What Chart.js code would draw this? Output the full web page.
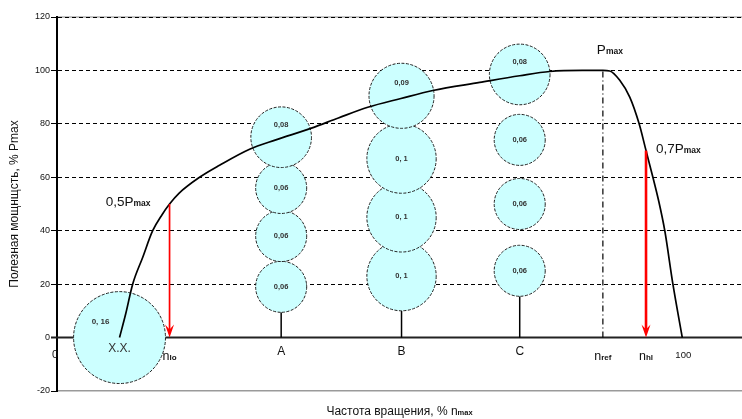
<!DOCTYPE html>
<html>
<head>
<meta charset="utf-8">
<script src="https://cdn.jsdelivr.net/npm/chart.js@4"></script>
<style>
  html, body { margin: 0; padding: 0; background: #fff; }
  #c { display: block; }
</style>
</head>
<body>
<canvas id="c" width="742" height="419"></canvas>
<script>
// Useful power (% of Pmax) against rotation speed (% of n_max)
const curveX = [10, 11, 12.1, 13.7, 15.3, 16.8, 18, 19.5, 22.8, 26, 30.8, 35, 40.7, 45, 49.7, 55, 60.1, 67.6, 74, 78.8, 84, 87.3, 88.4, 90, 91.6, 93.1, 94.2, 95.3, 96.2, 97.2, 98.5, 100];
const curveY = [0, 9, 20, 30, 40, 46, 50, 54, 60, 64.5, 70.5, 74, 78.4, 82.2, 86.2, 89.5, 92.5, 95.5, 98, 99.6, 100, 100, 99.8, 96.3, 90, 80, 70, 60, 51.4, 40, 20, 0];

// Operating-mode weights (share of time), one column per mode
const modeNames = ['X.X.', 'A', 'B', 'C'];
const modeX = [10, 35.85, 55.1, 74];
const idleY = [0];
const idleShare = [0.16];
const modeAY = [19, 38, 56, 75];
const modeAShare = [0.06, 0.06, 0.06, 0.08];
const modeBY = [23, 45, 67, 90.5];
const modeBShare = [0.1, 0.1, 0.1, 0.09];
const modeCY = [25, 50, 74, 98.5];
const modeCShare = [0.06, 0.06, 0.06, 0.08];

// Characteristic speeds and power levels
const nLo = 18, nRef = 87.3, nHl = 94.2;
const pLo = 50, pMax = 100, pHl = 70;

// Axis ticks
const yMin = -20, yMax = 120, yStep = 20;
const xLabelValues = [0, nLo, modeX[1], modeX[2], modeX[3], nRef, nHl, 100];
const xLabelMain = ['0', 'n', 'A', 'B', 'C', 'n', 'n', '100'];
const xLabelSub = ['', 'lo', '', '', '', 'ref', 'hl', ''];

const FONT = '"Liberation Sans", Arial, sans-serif';

// bubble radius (px) grows with the weight of the mode
function radiusFor(share) { return 138 * Math.pow(share, 0.6); }
function fmtShare(v) {
  const s = String(v).replace('.', ',');
  return v >= 0.1 ? s.replace(',', ', ') : (s.length < 4 ? s + '0' : s);
}
function bubblePoints(x, ys, shares) {
  return ys.map((y, i) => ({ x: x, y: y, r: radiusFor(shares[i]), share: shares[i] }));
}

// draws "main" followed by a small bold suffix on the same baseline
function drawSub(ctx, main, sub, x, baseline, mainPx, subPx, align) {
  ctx.font = mainPx + 'px ' + FONT;
  const w1 = ctx.measureText(main).width;
  ctx.font = 'bold ' + subPx + 'px ' + FONT;
  const w2 = sub ? ctx.measureText(sub).width : 0;
  let left = x;
  if (align === 'center') left = x - (w1 + w2) / 2;
  else if (align === 'right') left = x - (w1 + w2);
  ctx.textAlign = 'left';
  ctx.textBaseline = 'alphabetic';
  ctx.font = mainPx + 'px ' + FONT;
  ctx.fillText(main, left, baseline);
  if (sub) {
    ctx.font = 'bold ' + subPx + 'px ' + FONT;
    ctx.fillText(sub, left + w1, baseline);
  }
}

function arrowDown(ctx, x, yTop, yTip, width, color) {
  ctx.save();
  ctx.strokeStyle = color;
  ctx.fillStyle = color;
  ctx.lineWidth = width;
  ctx.beginPath();
  ctx.moveTo(x, yTop);
  ctx.lineTo(x, yTip - 6);
  ctx.stroke();
  ctx.beginPath();
  ctx.moveTo(x, yTip);
  ctx.lineTo(x - 4.5, yTip - 13);
  ctx.lineTo(x, yTip - 8);
  ctx.lineTo(x + 4.5, yTip - 13);
  ctx.closePath();
  ctx.fill();
  ctx.restore();
}

const decor = {
  id: 'decor',
  beforeDraw(chart) {
    const { ctx, chartArea: a } = chart;
    ctx.save();
    ctx.fillStyle = '#fff';
    ctx.fillRect(0, 0, chart.width, chart.height);
    // light frame line along the top of the plot
    ctx.strokeStyle = '#b0b0b0';
    ctx.lineWidth = 1.5;
    ctx.beginPath();
    ctx.moveTo(a.left, a.top);
    ctx.lineTo(a.right, a.top);
    ctx.stroke();
    ctx.restore();
  },
  beforeDatasetsDraw(chart) {
    const { ctx, chartArea: a, scales: { x, y } } = chart;
    const y0 = y.getPixelForValue(0);
    ctx.save();
    // zero line
    ctx.strokeStyle = '#222';
    ctx.lineWidth = 2;
    ctx.beginPath();
    ctx.moveTo(a.left - 6, y0);
    ctx.lineTo(a.right, y0);
    ctx.stroke();
    // stems under the mode columns
    ctx.strokeStyle = '#000';
    ctx.lineWidth = 1.5;
    chart.data.datasets.forEach((ds) => {
      if (!ds.stem) return;
      const p = ds.data[0];
      const px = x.getPixelForValue(p.x);
      const bottom = y.getPixelForValue(p.y) + p.r;
      ctx.beginPath();
      ctx.moveTo(px, bottom);
      ctx.lineTo(px, y0);
      ctx.stroke();
    });
    ctx.restore();
  },
  beforeDatasetDraw(chart, args) {
    if (args.meta.type === 'bubble') chart.ctx.setLineDash([3, 1.5]);
  },
  afterDatasetDraw(chart) {
    chart.ctx.setLineDash([]);
  },
  afterDatasetsDraw(chart) {
    const { ctx, chartArea: a, scales: { x, y } } = chart;
    const y0 = y.getPixelForValue(0);
    ctx.save();

    // red arrows down to the speed axis
    arrowDown(ctx, x.getPixelForValue(nLo), y.getPixelForValue(pLo), y0, 1.7, '#ff0000');
    arrowDown(ctx, x.getPixelForValue(nHl), y.getPixelForValue(pHl), y0, 2.6, '#ff0000');

    // weights written inside bubbles
    ctx.fillStyle = '#333';
    chart.data.datasets.forEach((ds, di) => {
      if (ds.type !== 'bubble') return;
      const meta = chart.getDatasetMeta(di);
      meta.data.forEach((el, i) => {
        const r = el.options.radius;
        const p = ds.data[i];
        if (ds.idle) {
          ctx.font = 'bold 8px ' + FONT;
          ctx.textAlign = 'center';
          ctx.textBaseline = 'middle';
          ctx.fillText(fmtShare(p.share), el.x - 19, el.y - 16);
          ctx.font = '12px ' + FONT;
          ctx.fillText(ds.label, el.x, el.y + 11);
          return;
        }
        const lift = (i === ds.data.length - 1) ? 0.4 * r : 0;
        ctx.font = 'bold 7.5px ' + FONT;
        ctx.textAlign = 'center';
        ctx.textBaseline = 'middle';
        ctx.fillText(fmtShare(p.share), el.x, el.y - lift);
      });
    });

    // power annotations
    ctx.fillStyle = '#111';
    drawSub(ctx, 'P', 'max', x.getPixelForValue(nRef) - 6, y.getPixelForValue(pMax) - 16, 13.5, 8.5, 'left');
    drawSub(ctx, '0,5P', 'max', x.getPixelForValue(nLo) - 19, y.getPixelForValue(pLo) + 2, 13.5, 8.5, 'right');
    drawSub(ctx, '0,7P', 'max', x.getPixelForValue(nHl) + 10, y.getPixelForValue(pHl) + 2, 13.5, 8.5, 'left');

    // speed axis labels
    ctx.fillStyle = '#111';
    xLabelValues.forEach((v, i) => {
      const px = x.getPixelForValue(v);
      const main = xLabelMain[i], sub = xLabelSub[i];
      if (sub) drawSub(ctx, main, sub, px, y0 + 22, 12.5, 8, 'center');
      else if (main === '100') drawSub(ctx, main, '', px + 1, y0 + 20, 9.5, 8, 'center');
      else if (main === '0') drawSub(ctx, main, '', px - 2, y0 + 20, 11, 8, 'center');
      else drawSub(ctx, main, '', px, y0 + 17, 12, 8, 'center');
    });

    // axis titles
    drawSub(ctx, 'Частота вращения, % n', 'max', (a.left + a.right) / 2, 415, 12, 7.5, 'center');
    ctx.save();
    ctx.translate(15, (a.top + a.bottom) / 2);
    ctx.rotate(-Math.PI / 2);
    ctx.font = '12px ' + FONT;
    ctx.textAlign = 'center';
    ctx.textBaseline = 'middle';
    ctx.fillText('Полезная мощнщсть, % Pmax', 0, 0);
    ctx.restore();

    ctx.restore();
  }
};

const curveData = curveX.map((v, i) => ({ x: v, y: curveY[i] }));

new Chart(document.getElementById('c'), {
  type: 'bubble',
  data: {
    datasets: [
      {
        type: 'line',
        label: 'P',
        data: curveData,
        borderColor: '#000',
        borderWidth: 1.7,
        pointRadius: 0,
        cubicInterpolationMode: 'monotone',
        fill: false,
        order: 0
      },
      {
        type: 'line',
        label: 'n_ref',
        data: [{ x: nRef, y: 0 }, { x: nRef, y: pMax }],
        borderColor: '#000',
        borderWidth: 1.2,
        borderDash: [6, 3, 1, 3],
        pointRadius: 0,
        fill: false,
        order: 1
      },
      {
        type: 'bubble', label: modeNames[0], idle: true,
        data: bubblePoints(modeX[0], idleY, idleShare),
        backgroundColor: '#ccffff', borderColor: '#222', borderWidth: 1, order: 2
      },
      {
        type: 'bubble', label: modeNames[1], stem: true,
        data: bubblePoints(modeX[1], modeAY, modeAShare),
        backgroundColor: '#ccffff', borderColor: '#222', borderWidth: 1, order: 2
      },
      {
        type: 'bubble', label: modeNames[2], stem: true,
        data: bubblePoints(modeX[2], modeBY, modeBShare),
        backgroundColor: '#ccffff', borderColor: '#222', borderWidth: 1, order: 2
      },
      {
        type: 'bubble', label: modeNames[3], stem: true,
        data: bubblePoints(modeX[3], modeCY, modeCShare),
        backgroundColor: '#ccffff', borderColor: '#222', borderWidth: 1, order: 2
      }
    ]
  },
  options: {
    responsive: false,
    animation: false,
    devicePixelRatio: 1,
    events: [],
    clip: false,
    layout: { autoPadding: false, padding: { top: 17, right: 0, bottom: 0, left: 0 } },
    plugins: { legend: { display: false }, tooltip: { enabled: false } },
    scales: {
      x: {
        type: 'linear',
        min: 0,
        max: 109.55,
        ticks: { display: false },
        grid: { display: false, drawTicks: false },
        border: { display: true, color: '#9a9a9a', width: 1.5 },
        afterFit(s) { s.height = 28; }
      },
      y: {
        type: 'linear',
        min: yMin,
        max: yMax,
        ticks: {
          stepSize: yStep,
          color: '#111',
          padding: 1,
          font: { family: FONT, size: 9 }
        },
        grid: {
          color: (c) => (c.tick && (c.tick.value === 0 || c.tick.value === yMin)) ? 'rgba(0,0,0,0)' : '#000',
          lineWidth: 1,
          drawTicks: true,
          tickLength: 6,
          tickColor: '#000',
          tickBorderDash: []
        },
        border: { display: true, color: '#000', width: 2, dash: [4, 3] },
        afterFit(s) { s.width = 57; }
      }
    }
  },
  plugins: [decor]
});
</script>
</body>
</html>
